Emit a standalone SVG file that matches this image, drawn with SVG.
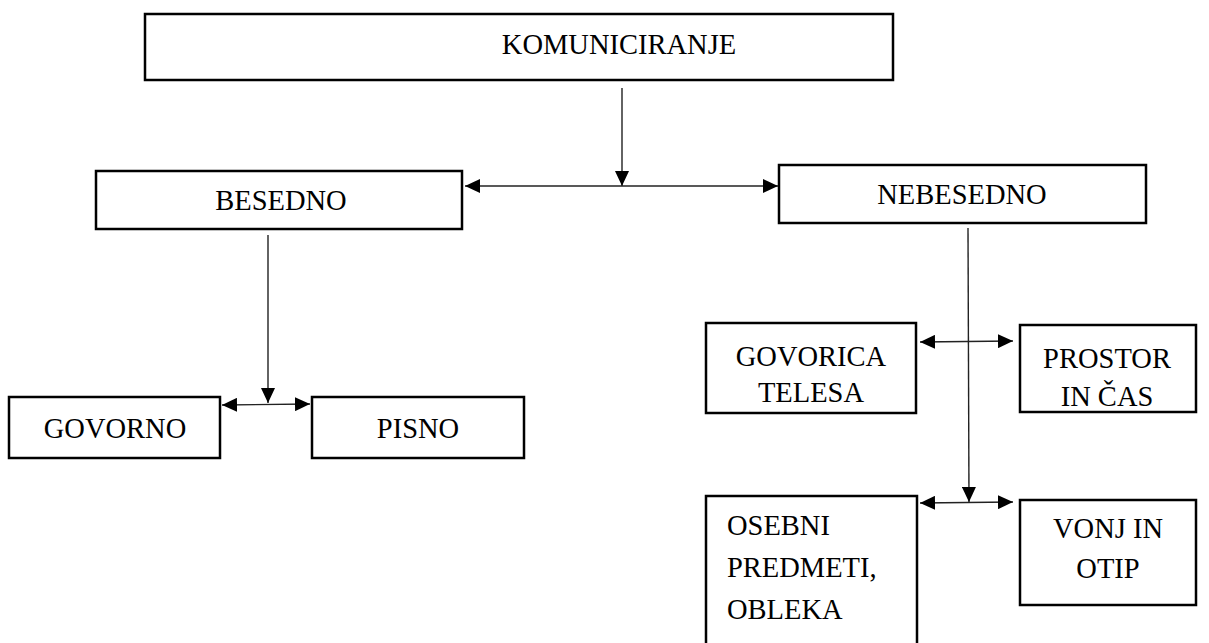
<svg xmlns="http://www.w3.org/2000/svg" width="1209" height="643" viewBox="0 0 1209 643">
<style>
.box{fill:#fff;stroke:#000;stroke-width:2.5}
.t{font-size:28.5px;fill:#000}
.c{text-anchor:middle}
.ln{stroke:#222;stroke-width:1.4;fill:none}
</style>
<defs>
<marker id="ah" markerUnits="userSpaceOnUse" markerWidth="16" markerHeight="14" refX="15" refY="7" orient="auto-start-reverse">
<path d="M0,0 L15,7 L0,14 Z" fill="#000"/>
</marker>
</defs>
<rect width="1209" height="643" fill="#fff"/>
<g id="connectors">
<line class="ln" x1="622" y1="88" x2="622" y2="186" marker-end="url(#ah)"/>
<line class="ln" x1="465" y1="186" x2="778" y2="186" marker-start="url(#ah)" marker-end="url(#ah)"/>
<line class="ln" x1="268" y1="235" x2="268" y2="403" marker-end="url(#ah)"/>
<line class="ln" x1="222" y1="405" x2="310" y2="404" marker-start="url(#ah)" marker-end="url(#ah)"/>
<line class="ln" x1="968" y1="228" x2="969" y2="502" marker-end="url(#ah)"/>
<line class="ln" x1="920" y1="342" x2="1013" y2="341" marker-start="url(#ah)" marker-end="url(#ah)"/>
<line class="ln" x1="920" y1="503" x2="1013" y2="502" marker-start="url(#ah)" marker-end="url(#ah)"/>
</g>
<g font-family="'Liberation Serif', 'Times New Roman', serif">
<g id="komuniciranje">
<rect class="box" x="145" y="14" width="748" height="66"/>
<text class="t c" x="619" y="54">KOMUNICIRANJE</text>
</g>
<g id="besedno">
<rect class="box" x="96" y="171" width="366" height="58"/>
<text class="t c" x="281" y="210">BESEDNO</text>
</g>
<g id="nebesedno">
<rect class="box" x="779" y="165" width="367" height="58"/>
<text class="t c" x="962" y="204">NEBESEDNO</text>
</g>
<g id="govorno">
<rect class="box" x="9" y="397" width="211" height="61"/>
<text class="t c" x="115" y="438">GOVORNO</text>
</g>
<g id="pisno">
<rect class="box" x="312" y="397" width="212" height="61"/>
<text class="t c" x="418" y="438">PISNO</text>
</g>
<g id="govorica">
<rect class="box" x="706" y="323" width="210" height="90"/>
<text class="t c" x="811" y="366">GOVORICA</text>
<text class="t c" x="811" y="402">TELESA</text>
</g>
<g id="prostor">
<rect class="box" x="1020" y="325" width="176" height="87"/>
<text class="t c" x="1107" y="368">PROSTOR</text>
<text class="t c" x="1107" y="406">IN ČAS</text>
</g>
<g id="osebni">
<rect class="box" x="706" y="496" width="211" height="160"/>
<text class="t" x="727" y="535">OSEBNI</text>
<text class="t" x="727" y="577">PREDMETI,</text>
<text class="t" x="727" y="619">OBLEKA</text>
</g>
<g id="vonj">
<rect class="box" x="1020" y="500" width="176" height="105"/>
<text class="t c" x="1108" y="538">VONJ IN</text>
<text class="t c" x="1108" y="578">OTIP</text>
</g>
</g>
</svg>
